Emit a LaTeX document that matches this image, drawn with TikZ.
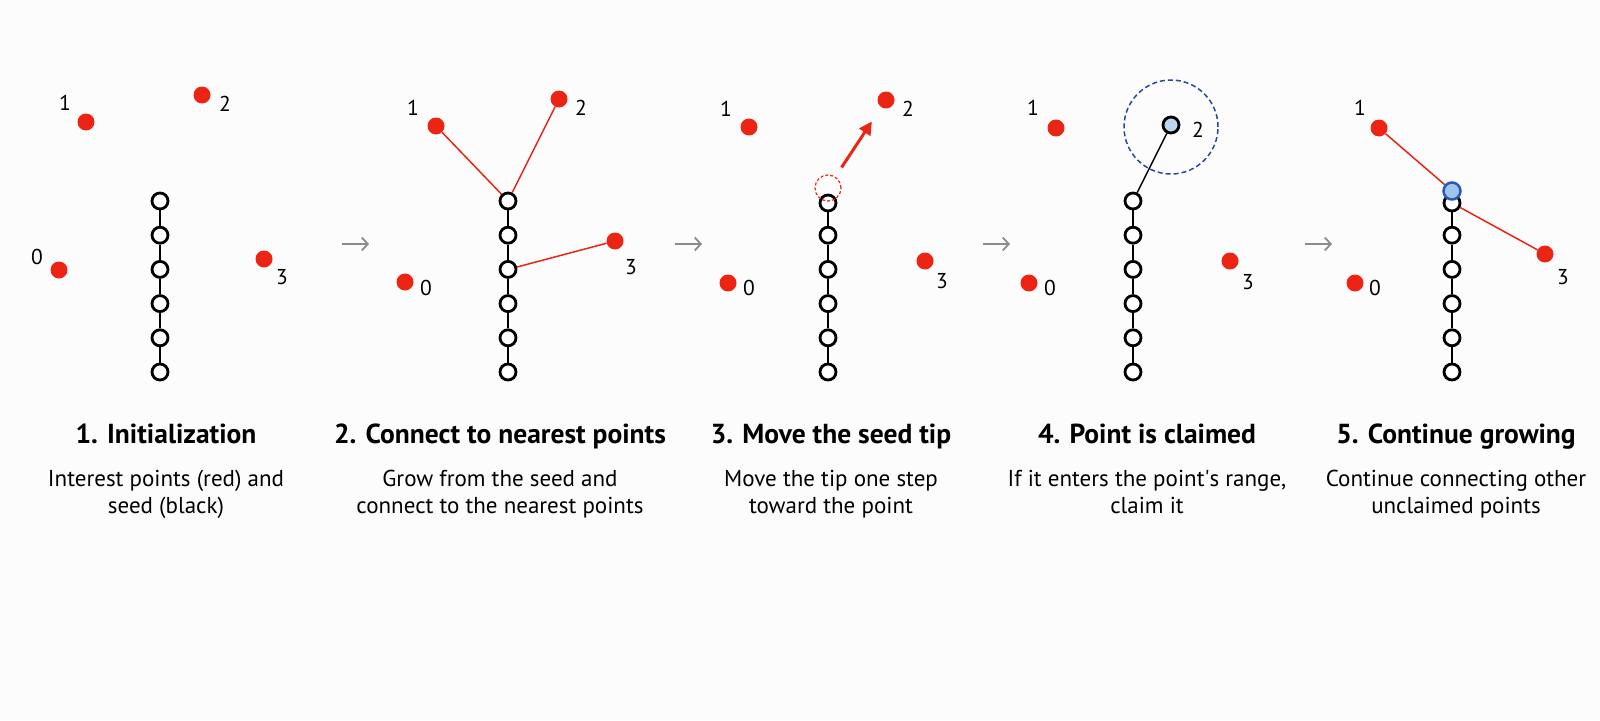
\documentclass[tikz,border=0pt]{standalone}
\usepackage{fontspec}
\setmainfont{PT Sans}
\usetikzlibrary{arrows.meta}
\definecolor{ptred}{RGB}{236,36,20}
\definecolor{claimfill}{RGB}{187,214,242}
\definecolor{tipfill}{RGB}{160,196,240}
\definecolor{tipblue}{RGB}{40,90,190}
\definecolor{rangeblue}{RGB}{40,70,170}
\definecolor{stepgray}{RGB}{140,140,140}
\definecolor{paper}{RGB}{252,252,252}
\tikzset{
  interest/.style={circle, fill=ptred, inner sep=0pt, minimum size=17},
  seednode/.style={circle, draw, fill=white, line width=2.8, inner sep=0pt, minimum size=16},
  seedlink/.style={line width=2},
  ptlabel/.style={font=\fontsize{21.5}{21.5}\selectfont},
  reach/.style={ptred, line width=1.5},
  steparrow/.style={stepgray, line width=1.8, -{Straight Barb[length=6,width=13]}},
  paneltitle/.style={anchor=base, font=\bfseries\fontsize{27.5}{30}\selectfont},
  panelnote/.style={anchor=base, align=center, font=\fontsize{23}{27}\selectfont},
}
% chain of seed nodes: prefix, x, y of the top node
\newcommand{\seedchain}[3]{%
  \foreach \k in {0,...,5} {%
    \pgfmathsetmacro{\cy}{\k==0 ? #3 : 201+34.2*\k}
    \node[seednode] (#1\k) at (#2,\cy) {};
  }
  \foreach \k [evaluate=\k as \j using int(\k+1)] in {0,...,4}
    \draw[seedlink] (#1\k) -- (#1\j);
}
\begin{document}
\begin{tikzpicture}[x=1pt, y=-1pt]
  \fill[paper] (0,0) rectangle (1600,720);
  \useasboundingbox (0,0) rectangle (1600,720);

  % 1. initialization
  \seedchain{a}{160}{201}
  \node[interest] (a-p0) at (59,270) {};
  \node[interest] (a-p1) at (86,122) {};
  \node[interest] (a-p2) at (202,95) {};
  \node[interest] (a-p3) at (264,259) {};
  \node[ptlabel] (a-l0) at (37,257) {0};
  \node[ptlabel] (a-l1) at (65,103) {1};
  \node[ptlabel] (a-l2) at (225,104) {2};
  \node[ptlabel] (a-l3) at (282,277) {3};

  % 2. connect
  \seedchain{b}{508}{201}
  \node[interest] (b-p0) at (405,282) {};
  \node[interest] (b-p1) at (436,126) {};
  \node[interest] (b-p2) at (559,99) {};
  \node[interest] (b-p3) at (615,241) {};
  \node[ptlabel] (b-l0) at (426,288) {0};
  \node[ptlabel] (b-l1) at (413,108) {1};
  \node[ptlabel] (b-l2) at (581,108) {2};
  \node[ptlabel] (b-l3) at (631,267) {3};
  \draw[reach] (b-p1) -- (b0);
  \draw[reach] (b-p2) -- (b0);
  \draw[reach] (b-p3) -- (b2);

  % 3. move the tip
  \seedchain{c}{828}{203}
  \node[interest] (c-p0) at (728,283) {};
  \node[interest] (c-p1) at (749,127) {};
  \node[interest] (c-p2) at (886,100) {};
  \node[interest] (c-p3) at (925,261) {};
  \node[ptlabel] (c-l0) at (749,288) {0};
  \node[ptlabel] (c-l1) at (726,109) {1};
  \node[ptlabel] (c-l2) at (908,109) {2};
  \node[ptlabel] (c-l3) at (942,281) {3};
  \node[circle, draw=ptred, dash pattern=on 3 off 2, line width=1.2, inner sep=0pt, minimum size=26] (c-ghost) at (828,188) {};
  \draw[ptred, line width=3, -{Triangle[length=13,width=13]}, shorten <=11, shorten >=17] (c-ghost) -- (c-p2);

  % 4. claimed
  \seedchain{d}{1133}{201}
  \node[interest] (d-p0) at (1029,283) {};
  \node[interest] (d-p1) at (1056,128) {};
  \node[interest] (d-p3) at (1230,261) {};
  \node[circle, draw=rangeblue, dash pattern=on 5 off 3, line width=1.5, inner sep=0pt, minimum size=94] (d-range) at (1171,127) {};
  \node[circle, draw, fill=claimfill, line width=2.8, inner sep=0pt, minimum size=16] (d-p2) at (1171,125) {};
  \draw[line width=1.5] (d0) -- (d-p2);
  \node[ptlabel] (d-l0) at (1050,288) {0};
  \node[ptlabel] (d-l1) at (1033,108) {1};
  \node[ptlabel] (d-l2) at (1198,130) {2};
  \node[ptlabel] (d-l3) at (1248,282) {3};

  % 5. continue
  \seedchain{e}{1452}{203}
  \node[interest] (e-p0) at (1355,283) {};
  \node[interest] (e-p1) at (1379,128) {};
  \node[interest] (e-p3) at (1545,254) {};
  \node[circle, draw=tipblue, fill=tipfill, line width=2.5, inner sep=0pt, minimum size=17] (e-tip) at (1452,191) {};
  \draw[reach] (e-p1) -- (e-tip);
  \draw[reach] (e0) -- (e-p3);
  \node[ptlabel] (e-l0) at (1375,288) {0};
  \node[ptlabel] (e-l1) at (1360,108) {1};
  \node[ptlabel] (e-l3) at (1563,277) {3};

  % arrows between panels
  \foreach \ax/\nm in {342/ab, 675/bc, 983/cd, 1305/de} {
    \coordinate (\nm-s) at (\ax,244);
    \coordinate (\nm-e) at (\ax+27,244);
    \draw[steparrow] (\nm-s) -- (\nm-e);
  }

  % captions
  \node[paneltitle] (t1) at (166,443) {1. Initialization};
  \node[paneltitle] (t2) at (500,443) {2. Connect to nearest points};
  \node[paneltitle] (t3) at (831,443) {3. Move the seed tip};
  \node[paneltitle] (t4) at (1147,443) {4. Point is claimed};
  \node[paneltitle] (t5) at (1456,443) {5. Continue growing};
  \node[panelnote] (n1) at (166,513) {Interest points (red) and\\seed (black)};
  \node[panelnote] (n2) at (500,513) {Grow from the seed and\\connect to the nearest points};
  \node[panelnote] (n3) at (831,513) {Move the tip one step\\toward the point};
  \node[panelnote] (n4) at (1147,513) {If it enters the point\textquotesingle s range,\\claim it};
  \node[panelnote] (n5) at (1456,513) {Continue connecting other\\unclaimed points};
\end{tikzpicture}
\end{document}
